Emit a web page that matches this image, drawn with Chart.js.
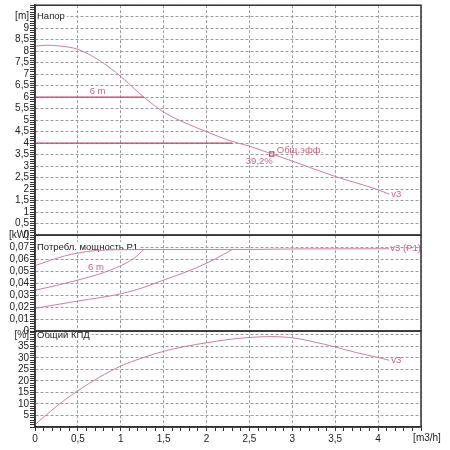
<!DOCTYPE html>
<html lang="ru">
<head>
<meta charset="UTF-8">
<title>Напор / P1 / КПД</title>
<script src="https://cdn.jsdelivr.net/npm/chart.js@4.4.1/dist/chart.umd.min.js"></script>
<style>
  html, body { margin: 0; padding: 0; background: #fff; }
  #wrap { width: 450px; height: 450px; position: relative; }
</style>
</head>
<body>
<div id="wrap"><canvas id="pumpChart"></canvas></div>
<script>
// ---- data (flow in m3/h) ----
const headFlow = [0, 0.15, 0.3, 0.5, 0.75, 1.0, 1.27, 1.5, 1.75, 2.0, 2.25, 2.5, 2.76, 3.0, 3.5, 4.0, 4.13];
const headV3   = [8.22, 8.26, 8.22, 8.08, 7.6, 6.9, 6.0, 5.35, 4.88, 4.5, 4.13, 3.87, 3.53, 3.22, 2.55, 1.97, 1.78];

const head6mFlow = [0, 1.27];
const head6m     = [6, 6];
const head4mFlow = [0, 2.3];
const head4m     = [4, 4];

const dutyFlow = [2.76];
const dutyHead = [3.53];

const p1V3Flow = [0, 0.18, 0.34, 0.5, 0.72, 1.0, 1.27, 2.0, 2.6, 3.1, 4.13];
const p1V3     = [0.0545, 0.059, 0.0625, 0.065, 0.0672, 0.0678, 0.068, 0.068, 0.0681, 0.0685, 0.0686];
const p16mFlow = [0, 0.25, 0.5, 0.75, 1.0, 1.15, 1.27];
const p16m     = [0.034, 0.038, 0.0425, 0.0475, 0.0545, 0.0605, 0.068];
const p14mFlow = [0, 0.5, 1.0, 1.25, 1.5, 1.75, 2.0, 2.2, 2.3];
const p14m     = [0.019, 0.025, 0.031, 0.036, 0.0425, 0.049, 0.0565, 0.064, 0.068];

const effFlow = [0, 0.25, 0.5, 0.75, 1.0, 1.25, 1.5, 1.75, 2.0, 2.25, 2.5, 2.75, 3.0, 3.25, 3.5, 3.75, 4.0, 4.13];
const effV3   = [1.0, 9.0, 15.8, 21.6, 26.5, 30.0, 32.9, 35.0, 36.6, 38.0, 38.9, 39.3, 38.8, 37.0, 34.8, 32.3, 30.2, 29.0];

// axis ranges / ticks
const flowRange  = [0, 4.5];
const headRange  = [0, 10];
const powerRange = [0, 0.08];
const effRange   = [0, 41.7];
const flowUnit = '[m3/h]', headUnit = '[m]', powerUnit = '[kW]', effUnit = '[%]';

const curveColor = '#d27f95';
const lineColor  = '#c8435f';
const textColor  = '#c8637c';
const fontFamily = '"Liberation Sans", Arial, sans-serif';
const noteFont = '9.5px ' + fontFamily;

function pts(xs, ys) { return xs.map((x, i) => ({ x: x, y: ys[i] })); }
function comma(v) { return String(+v.toFixed(4)).replace('.', ','); }
function isMajor(v, step) { const r = v / step; return Math.abs(r - Math.round(r)) < 1e-6; }
function minorTicks(min, max, step) {
  const out = [];
  const n = Math.floor((max - min) / step + 1e-6);
  for (let k = 0; k <= n; k++) out.push({ value: +(min + k * step).toFixed(5) });
  return out;
}

function yScale(range, minor, major, unitAt, unit, weight, stackWeight, hideZero) {
  return {
    type: 'linear', position: 'left', stack: 'panels', weight: weight, stackWeight: stackWeight,
    min: range[0], max: range[1],
    afterBuildTicks: s => { s.ticks = minorTicks(range[0], range[1], minor); },
    afterFit: s => { s.width = 35; s.paddingTop = 0; s.paddingBottom = 0; },
    ticks: {
      autoSkip: false, padding: 1, color: '#222',
      font: { family: fontFamily, size: 10 },
      callback: v => {
        if (!isMajor(v, major)) return '';
        if (Math.abs(v - unitAt) < 1e-9) return unit;
        if (v > unitAt) return '';
        if (hideZero && v === 0) return '';
        return comma(v);
      }
    },
    grid: {
      color: c => isMajor(c.tick.value, major) ? '#9c9c9c' : 'rgba(0,0,0,0)',
      lineWidth: 1, tickColor: '#333', tickWidth: 1, tickLength: 5
    },
    border: { color: '#333', width: 1.5, dash: [3, 2] }
  };
}

const panelTitles = [
  { axis: 'yH', value: 9.5,  text: 'Напор' },
  { axis: 'yP', value: 0.07, text: 'Потребл. мощность P1' },
  { axis: 'yE', value: 40,   text: 'Общий КПД' }
];
const curveNotes = [
  { axis: 'yH', x: 0.73, y: 6,      dy: -6, align: 'center', text: '6 m' },
  { axis: 'yH', x: 4.13, y: 1.78,   dx: 2,  align: 'left',   text: 'v3' },
  { axis: 'yH', x: 2.76, y: 3.53,   dx: 5, dy: -4, align: 'left', text: 'Общ.эфф.' },
  { axis: 'yH', x: 2.76, y: 3.53,   dx: 1, dy: 7,  align: 'right', text: '39,2%' },
  { axis: 'yP', x: 0.71, y: 0.0535, align: 'center', text: '6 m' },
  { axis: 'yP', x: 4.13, y: 0.0686, dx: 1,  align: 'left',   text: 'v3 (P1)' },
  { axis: 'yE', x: 4.13, y: 29.0,   dx: 2,  align: 'left',   text: 'v3' }
];

const panelsPlugin = {
  id: 'panels',
  beforeDatasetsDraw(chart) {
    const ctx = chart.ctx, a = chart.chartArea;
    ctx.save();
    ctx.font = noteFont;
    ctx.textBaseline = 'middle';
    panelTitles.forEach(t => {
      const y = chart.scales[t.axis].getPixelForValue(t.value);
      const w = ctx.measureText(t.text).width;
      ctx.fillStyle = '#fff';
      ctx.fillRect(a.left + 1, y - 5, w + 3, 10);
      ctx.fillStyle = '#1a1a1a';
      ctx.fillText(t.text, a.left + 2, y);
    });
    ctx.restore();
  },
  afterDatasetsDraw(chart) {
    const ctx = chart.ctx, xs = chart.scales.x;
    ctx.save();
    ctx.font = noteFont;
    ctx.textBaseline = 'middle';
    ctx.fillStyle = textColor;
    curveNotes.forEach(n => {
      ctx.textAlign = n.align;
      ctx.fillText(n.text, xs.getPixelForValue(n.x) + (n.dx || 0),
                   chart.scales[n.axis].getPixelForValue(n.y) + (n.dy || 0));
    });
    // flow unit sits just right of the last grid position
    ctx.fillStyle = '#222';
    ctx.font = '10px ' + fontFamily;
    ctx.textAlign = 'center';
    ctx.fillText(flowUnit, xs.getPixelForValue(flowRange[1]) + 6, xs.top + 11);
    ctx.restore();
  },
  afterDraw(chart) {
    const ctx = chart.ctx, a = chart.chartArea;
    ctx.save();
    ctx.strokeStyle = '#333';
    ctx.lineWidth = 1.5;
    ['yH', 'yP', 'yE'].forEach(id => {
      const s = chart.scales[id];
      ctx.strokeRect(a.left, s.top, a.right - a.left, s.bottom - s.top);
    });
    ctx.restore();
  }
};

function line(data, axis, color, width) {
  return { data: data, yAxisID: axis, borderColor: color, borderWidth: width,
           pointRadius: 0, fill: false, cubicInterpolationMode: 'monotone' };
}

new Chart(document.getElementById('pumpChart'), {
  type: 'line',
  data: {
    datasets: [
      line(pts(headFlow, headV3), 'yH', curveColor, 1),
      line(pts(head6mFlow, head6m), 'yH', lineColor, 1.3),
      line(pts(head4mFlow, head4m), 'yH', lineColor, 1.3),
      { data: pts(dutyFlow, dutyHead), yAxisID: 'yH', showLine: false, pointStyle: 'rect',
        pointRadius: 3, pointBorderWidth: 1.2, pointBorderColor: lineColor, pointBackgroundColor: '#fff' },
      line(pts(p1V3Flow, p1V3), 'yP', curveColor, 1),
      line(pts(p16mFlow, p16m), 'yP', curveColor, 1),
      line(pts(p14mFlow, p14m), 'yP', curveColor, 1),
      line(pts(effFlow, effV3), 'yE', curveColor, 1)
    ]
  },
  options: {
    responsive: true,
    maintainAspectRatio: false,
    animation: false,
    layout: { padding: { top: 5, right: 29, bottom: 3, left: 0 } },
    plugins: { legend: { display: false }, tooltip: { enabled: false } },
    scales: {
      x: {
        type: 'linear', min: flowRange[0], max: flowRange[1],
        afterBuildTicks: s => { s.ticks = minorTicks(flowRange[0], flowRange[1], 0.1); },
        afterFit: s => { s.height = 20; },
        ticks: {
          autoSkip: false, maxRotation: 0, padding: 2, color: '#222',
          font: { family: fontFamily, size: 10 },
          callback: v => {
            if (!isMajor(v, 0.5)) return '';
            if (Math.abs(v - flowRange[1]) < 1e-9) return '';
            return comma(v);
          }
        },
        grid: {
          color: c => isMajor(c.tick.value, 0.5) ? '#9c9c9c' : 'rgba(0,0,0,0)',
          lineWidth: 1, tickColor: '#333', tickWidth: 1, tickLength: 4
        },
        border: { color: '#333', width: 1.5, dash: [3, 2] }
      },
      yH: yScale(headRange, 0.1, 0.5, 9.5, headUnit, 3, 230, false),
      yP: yScale(powerRange, 0.002, 0.01, 0.08, powerUnit, 2, 96, false),
      yE: yScale(effRange, 1, 5, 40, effUnit, 1, 96, true)
    }
  },
  plugins: [panelsPlugin]
});
</script>
</body>
</html>
